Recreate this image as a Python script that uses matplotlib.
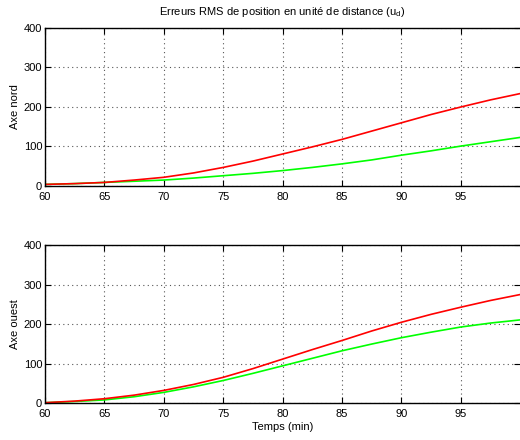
import numpy as np
import matplotlib
matplotlib.use('Agg')
from matplotlib import pyplot as plt

plt.rcParams['font.family'] = ['Liberation Sans', 'DejaVu Sans']
plt.rcParams['mathtext.default'] = 'regular'

# Temps (min)
temps = [60, 62.5, 65, 67.5, 70, 72.5, 75, 77.5, 80, 82.5, 85, 87.5, 90, 92.5, 95, 97.5, 100]

# Axe nord
nord_rouge = [4, 6, 9, 15, 22, 33, 47, 63, 81, 99, 118, 139, 160, 181, 200, 218, 234]
nord_vert = [4, 6, 9, 12, 15, 20, 26, 32, 39, 47, 56, 66, 78, 89, 101, 112, 123]

# Axe ouest
ouest_rouge = [2, 6, 12, 21, 33, 48, 66, 88, 112, 136, 159, 183, 205, 225, 243, 260, 275]
ouest_vert = [2, 5, 9, 17, 28, 42, 58, 76, 95, 114, 133, 150, 166, 180, 193, 203, 211]

xticks = [60, 65, 70, 75, 80, 85, 90, 95]
yticks = [0, 100, 200, 300, 400]

fig = plt.figure(figsize=(5.2, 4.4), dpi=100)
ax1 = fig.add_axes([0.0865, 0.5773, 0.914, 0.3591])
ax2 = fig.add_axes([0.0865, 0.0830, 0.914, 0.3602])

for ax, vert, rouge, nom in [(ax1, nord_vert, nord_rouge, 'Axe nord'),
                             (ax2, ouest_vert, ouest_rouge, 'Axe ouest')]:
    ax.plot(temps, vert, color=(0, 1, 0), lw=1.2)
    ax.plot(temps, rouge, color=(1, 0, 0), lw=1.2)
    ax.set_xlim(60, 100)
    ax.set_ylim(0, 400)
    ax.set_xticks(xticks)
    ax.set_yticks(yticks)
    ax.grid(True, linestyle=(0, (1, 3)), color='#555555', lw=0.8)
    ax.tick_params(direction='in', top=True, right=True, labelsize=8,
                   length=4, width=0.8, colors='black')
    ax.tick_params(axis='x', pad=4)
    ax.tick_params(axis='y', pad=2)
    ax.set_ylabel(nom, fontsize=8, labelpad=3)
    for s in ax.spines.values():
        s.set_linewidth(1.0)
    ax.spines['right'].set_visible(False)

ax1.set_title('Erreurs RMS de position en unité de distance (u$_d$)', fontsize=8, pad=9)
ax2.set_xlabel('Temps (min)', fontsize=8, labelpad=2)

fig.savefig('out.png', dpi=100)
